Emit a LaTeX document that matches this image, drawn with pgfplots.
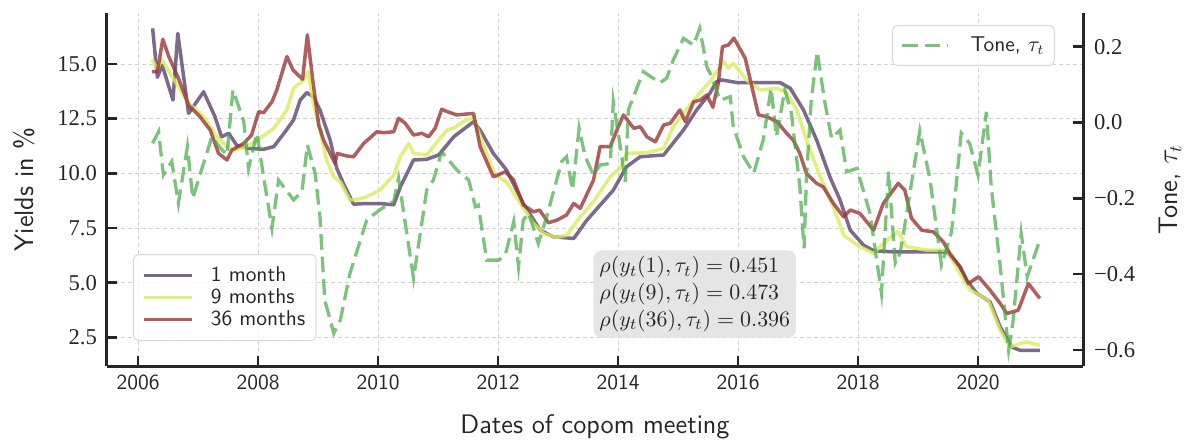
\documentclass[border=0pt]{standalone}
\usepackage{fontspec}
\newfontfamily\tickfont{Liberation Serif}
\usepackage{pgfplots}
\pgfplotsset{compat=1.18}
\definecolor{spine}{HTML}{262626}
\definecolor{cone}{RGB}{92,67,111}
\definecolor{cnine}{RGB}{217,236,92}
\definecolor{cthirty}{RGB}{155,55,55}
\definecolor{ctone}{RGB}{69,169,69}
\begin{document}
\begin{tikzpicture}
\begin{axis}[
  at={(0,0)}, anchor=south west,
  scale only axis, width=488pt, height=176.5pt,
  xmin=2005.48, xmax=2021.75, ymin=1.19, ymax=17.33,
  axis x line*=bottom, axis y line*=left,
  axis line style={spine, line width=1.5pt},
  tick align=inside, major tick length=5pt,
  tick style={spine, line width=1.2pt},
  xtick={2006,2008,2010,2012,2014,2016,2018,2020},
  xticklabels={2006,2008,2010,2012,2014,2016,2018,2020},
  xticklabel style={font=\sffamily\fontsize{10.75}{12}\selectfont, text=spine, yshift=-1pt},
  ytick={2.5,5,7.5,10,12.5,15},
  yticklabels={2.5,5.0,7.5,10.0,12.5,15.0},
  yticklabel style={font=\tickfont\fontsize{11.3}{13}\selectfont, text=spine, xshift=-1.5pt},
  grid=major,
  major grid style={gray!35, line width=0.4pt, dash pattern=on 2pt off 1.5pt},
  xlabel={Dates of copom meeting},
  ylabel={Yields in \%},
  every axis x label/.style={at={(rel axis cs:0.5,0)}, anchor=base, yshift=-33.5pt, font=\sffamily\fontsize{13.4}{16}\selectfont, text=spine},
  every axis y label/.style={at={(rel axis cs:0,0.5)}, xshift=-41.5pt, rotate=90, anchor=center, font=\sffamily\fontsize{13.4}{16}\selectfont, text=spine},
  legend cell align=left,
  legend image code/.code={\draw[#1] (0pt,0pt) -- (24pt,0pt);},
  legend style={at={(rel axis cs:0.0266,0.0708)}, anchor=south west, draw=gray!30, line width=0.5pt, rounded corners=2.5pt, fill=white, fill opacity=0.8, text opacity=1, font=\sffamily\fontsize{10.7}{12}\selectfont, text=spine, inner xsep=4.5pt, inner ysep=5pt, column sep=7.5pt, nodes={inner sep=1pt, text height=7.3pt, text depth=1.7pt}},
]
\addplot[cone, opacity=0.8, line width=1.75pt, line join=round] coordinates {
(2006.24,16.63)(2006.32,14.39)(2006.40,14.95)(2006.58,13.35)(2006.66,16.40)(2006.84,12.74)(2007.09,13.73)(2007.28,12.59)(2007.39,11.67)(2007.51,11.83)(2007.64,11.29)(2007.84,11.14)(2008.09,11.10)(2008.26,11.22)(2008.45,11.90)(2008.59,12.44)(2008.70,13.35)(2008.81,13.69)(2008.92,13.50)(2009.03,12.90)(2009.20,11.52)(2009.31,10.23)(2009.42,9.54)(2009.59,8.59)(2009.81,8.62)(2010.03,8.62)(2010.26,8.56)(2010.37,9.38)(2010.59,10.61)(2010.81,10.64)(2011.01,10.84)(2011.26,11.67)(2011.59,12.36)(2011.70,11.98)(2011.92,10.91)(2012.14,10.15)(2012.42,8.62)(2012.70,7.40)(2012.92,7.10)(2013.26,7.02)(2013.48,7.86)(2013.92,9.23)(2014.14,10.30)(2014.37,10.76)(2014.76,10.84)(2014.87,11.22)(2015.09,11.98)(2015.31,12.90)(2015.53,13.66)(2015.64,14.19)(2015.73,14.27)(2015.98,14.15)(2016.37,14.15)(2016.70,14.15)(2016.87,13.89)(2017.09,12.90)(2017.31,11.52)(2017.53,9.84)(2017.70,8.78)(2017.87,7.40)(2018.09,6.72)(2018.26,6.46)(2018.59,6.41)(2019.14,6.41)(2019.48,6.41)(2019.70,5.72)(2019.81,5.11)(2019.98,4.51)(2020.20,4.13)(2020.37,2.98)(2020.56,2.06)(2020.70,1.91)(2021.03,1.91)
};
\addlegendentry{1 month}
\addplot[cnine, opacity=0.8, line width=1.75pt, line join=round] coordinates {
(2006.23,15.21)(2006.32,14.76)(2006.39,15.21)(2006.84,13.20)(2007.09,12.59)(2007.31,11.67)(2007.48,11.22)(2007.59,11.06)(2007.81,11.22)(2007.98,11.52)(2008.15,11.83)(2008.26,12.06)(2008.48,12.90)(2008.59,13.89)(2008.76,14.27)(2008.83,14.65)(2008.92,13.20)(2009.03,11.98)(2009.14,10.61)(2009.26,9.84)(2009.37,9.61)(2009.53,8.78)(2009.67,8.81)(2009.81,8.93)(2010.03,9.23)(2010.26,9.92)(2010.37,10.76)(2010.51,11.37)(2010.59,10.91)(2010.81,10.84)(2011.01,11.52)(2011.15,11.98)(2011.26,12.06)(2011.42,12.36)(2011.59,12.56)(2011.76,11.22)(2011.95,9.92)(2012.14,9.61)(2012.37,8.62)(2012.59,7.71)(2012.76,7.25)(2012.98,7.07)(2013.14,7.17)(2013.37,8.01)(2013.59,8.70)(2013.87,9.84)(2014.03,10.23)(2014.14,10.91)(2014.48,10.94)(2014.76,11.14)(2014.92,12.13)(2015.26,13.35)(2015.53,14.19)(2015.76,15.11)(2015.84,14.80)(2015.92,15.03)(2016.14,14.27)(2016.37,13.81)(2016.65,13.89)(2016.81,13.66)(2016.98,12.90)(2017.14,11.52)(2017.37,9.84)(2017.59,8.47)(2017.76,7.17)(2018.03,6.64)(2018.26,6.34)(2018.48,6.95)(2018.67,7.33)(2018.81,6.64)(2019.14,6.49)(2019.48,6.49)(2019.70,5.42)(2019.87,4.66)(2020.17,4.20)(2020.37,2.83)(2020.53,2.06)(2020.70,2.22)(2020.81,2.29)(2021.03,2.14)
};
\addlegendentry{9 months}
\addplot[cthirty, opacity=0.8, line width=1.75pt, line join=round] coordinates {
(2006.23,14.65)(2006.32,14.65)(2006.41,16.13)(2006.51,15.34)(2006.67,14.35)(2006.84,13.12)(2007.03,12.59)(2007.20,11.98)(2007.34,10.91)(2007.48,10.61)(2007.56,11.06)(2007.76,11.37)(2007.89,11.75)(2008.01,12.82)(2008.09,12.77)(2008.23,13.27)(2008.31,13.81)(2008.48,15.34)(2008.58,14.73)(2008.74,14.30)(2008.82,16.33)(2008.91,14.27)(2009.01,12.21)(2009.09,11.52)(2009.28,10.46)(2009.32,10.91)(2009.48,10.79)(2009.59,10.76)(2009.76,11.37)(2009.98,11.90)(2010.09,11.86)(2010.26,11.90)(2010.34,12.52)(2010.45,12.29)(2010.59,11.75)(2010.73,11.83)(2010.84,11.67)(2010.95,12.06)(2011.06,12.93)(2011.15,12.82)(2011.31,12.67)(2011.59,12.74)(2011.70,11.22)(2011.92,9.84)(2012.12,10.07)(2012.26,9.69)(2012.42,8.55)(2012.59,8.24)(2012.69,8.32)(2012.84,7.74)(2012.98,7.86)(2013.14,8.09)(2013.26,8.62)(2013.37,8.40)(2013.59,9.69)(2013.70,11.22)(2013.87,11.22)(2013.98,11.98)(2014.09,12.67)(2014.26,12.06)(2014.37,12.13)(2014.48,11.67)(2014.62,11.44)(2014.76,12.21)(2014.87,12.29)(2015.03,12.90)(2015.12,12.36)(2015.26,13.27)(2015.37,13.35)(2015.48,13.58)(2015.58,13.02)(2015.67,14.12)(2015.74,15.79)(2015.84,15.87)(2015.93,16.18)(2016.12,15.26)(2016.23,13.96)(2016.34,12.67)(2016.48,12.59)(2016.65,12.36)(2016.81,11.83)(2016.92,11.52)(2017.03,10.91)(2017.14,9.99)(2017.31,9.54)(2017.42,9.38)(2017.59,8.62)(2017.76,8.01)(2017.87,8.32)(2018.03,8.17)(2018.26,7.40)(2018.42,8.62)(2018.67,9.54)(2018.78,9.23)(2018.89,7.95)(2019.06,7.40)(2019.26,7.32)(2019.42,6.87)(2019.53,6.34)(2019.70,5.72)(2019.84,4.96)(2020.01,5.27)(2020.20,4.66)(2020.37,4.05)(2020.48,3.59)(2020.67,3.74)(2020.84,4.96)(2021.03,4.28)
};
\addlegendentry{36 months}
\node[anchor=north west, fill=gray!20, rounded corners=4pt, inner xsep=3pt, inner ysep=3pt, align=left, font=\fontsize{11}{13.3}\selectfont, text=spine] at (rel axis cs:0.498,0.3286) {$\rho(y_t(1),\tau_t) = 0.451$\\ $\rho(y_t(9),\tau_t) = 0.473$\\ $\rho(y_t(36),\tau_t) = 0.396$};
\end{axis}
\begin{axis}[
  at={(0,0)}, anchor=south west,
  scale only axis, width=488pt, height=176.5pt,
  xmin=2005.48, xmax=2021.75, ymin=-0.6422, ymax=0.2888,
  axis x line=none, axis y line*=right,
  axis line style={spine, line width=1.5pt},
  tick align=inside, major tick length=5pt,
  tick style={spine, line width=1.2pt},
  ytick={-0.6,-0.4,-0.2,0,0.2},
  yticklabels={−0.6,−0.4,−0.2,0.0,0.2},
  yticklabel style={font=\tickfont\fontsize{11.3}{13}\selectfont, text=spine, xshift=2pt},
  ylabel={Tone, $\tau_t$},
  every axis y label/.style={at={(rel axis cs:1,0.5)}, xshift=43.5pt, rotate=90, anchor=center, font=\sffamily\fontsize{13.4}{16}\selectfont, text=spine},
  legend cell align=left,
  legend image code/.code={\draw[#1] (0pt,0pt) -- (23pt,0pt);},
  legend style={at={(rel axis cs:0.9713,0.966)}, anchor=north east, draw=gray!30, line width=0.5pt, rounded corners=2.5pt, fill=white, fill opacity=0.8, text opacity=1, font=\sffamily\fontsize{10.7}{12}\selectfont, text=spine, inner xsep=4pt, inner ysep=4.5pt, column sep=9.5pt, nodes={inner sep=1pt, text height=7.3pt, text depth=1.7pt}},
]
\addplot[ctone, opacity=0.7, line width=1.65pt, dash pattern=on 7.8pt off 3.5pt] coordinates {
(2006.24,-0.055)(2006.34,-0.024)(2006.42,-0.138)(2006.56,-0.103)(2006.67,-0.213)(2006.82,-0.064)(2006.91,-0.200)(2007.03,-0.138)(2007.23,-0.037)(2007.36,-0.065)(2007.48,-0.086)(2007.58,0.086)(2007.76,0.002)(2007.84,-0.121)(2007.98,-0.028)(2008.09,-0.143)(2008.23,-0.279)(2008.34,-0.152)(2008.59,-0.204)(2008.73,-0.182)(2008.82,-0.059)(2008.95,-0.134)(2009.03,-0.248)(2009.11,-0.468)(2009.26,-0.556)(2009.37,-0.521)(2009.53,-0.398)(2009.81,-0.257)(2010.03,-0.230)(2010.26,-0.208)(2010.34,-0.147)(2010.59,-0.411)(2010.81,-0.178)(2010.92,-0.152)(2011.06,-0.077)(2011.31,-0.125)(2011.51,-0.152)(2011.62,-0.222)(2011.67,-0.218)(2011.81,-0.363)(2012.01,-0.363)(2012.12,-0.349)(2012.26,-0.262)(2012.34,-0.380)(2012.42,-0.257)(2012.51,-0.239)(2012.67,-0.319)(2012.81,-0.248)(2013.06,-0.103)(2013.14,-0.090)(2013.24,-0.178)(2013.35,-0.015)(2013.45,-0.090)(2013.59,-0.138)(2013.70,-0.112)(2013.87,-0.108)(2013.92,0.055)(2014.02,-0.046)(2014.12,-0.156)(2014.17,0.033)(2014.42,0.134)(2014.70,0.105)(2014.81,0.117)(2014.92,0.165)(2015.09,0.222)(2015.26,0.204)(2015.36,0.248)(2015.48,0.147)(2015.56,0.121)(2015.70,0.059)(2015.87,0.068)(2015.92,-0.011)(2016.09,-0.090)(2016.26,-0.134)(2016.42,-0.046)(2016.55,0.090)(2016.64,-0.037)(2016.78,0.086)(2016.89,0.024)(2017.03,-0.169)(2017.10,-0.332)(2017.14,-0.143)(2017.22,0.059)(2017.32,0.187)(2017.44,0.059)(2017.56,-0.042)(2017.70,-0.020)(2017.81,-0.130)(2017.98,-0.121)(2018.20,-0.240)(2018.39,-0.450)(2018.51,-0.130)(2018.62,-0.371)(2018.70,-0.345)(2018.78,-0.270)(2019.03,-0.022)(2019.20,-0.150)(2019.39,-0.376)(2019.56,-0.288)(2019.72,-0.028)(2019.86,-0.055)(2020.00,-0.138)(2020.14,0.028)(2020.22,-0.169)(2020.37,-0.380)(2020.51,-0.600)(2020.58,-0.530)(2020.72,-0.292)(2020.82,-0.407)(2021.03,-0.310)
};
\addlegendentry{Tone, $\tau_t$}
\end{axis}
\pgfresetboundingbox
\path[use as bounding box] (-53.5pt,-37.5pt) rectangle (542pt,183pt);
\end{tikzpicture}
\end{document}
